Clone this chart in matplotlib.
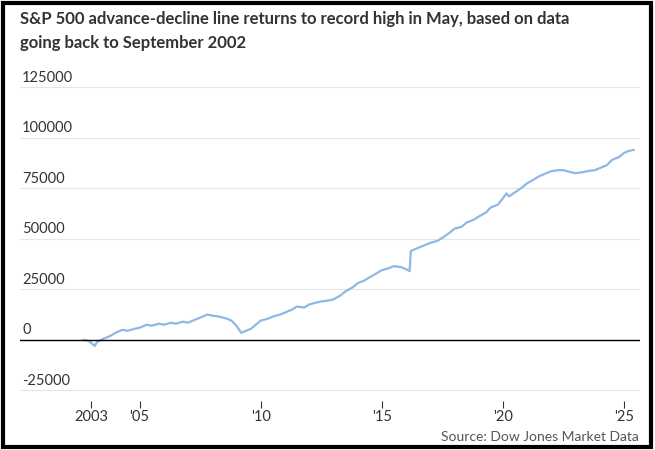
import matplotlib.pyplot as plt
import matplotlib.transforms as mtransforms
from matplotlib.patches import Rectangle

# values (decimal year, A/D line level)
years = [2002.7, 2002.9, 2003.0, 2003.15, 2003.25, 2003.5, 2003.8, 2004.0, 2004.3, 2004.5,
         2004.8, 2005.0, 2005.3, 2005.5, 2005.8, 2006.0, 2006.3, 2006.5, 2006.8, 2007.0,
         2007.3, 2007.6, 2007.8, 2008.0, 2008.3, 2008.6, 2008.8, 2009.0, 2009.2, 2009.4,
         2009.6, 2009.8, 2010.0, 2010.3, 2010.5, 2010.8, 2011.0, 2011.3, 2011.5, 2011.8,
         2012.0, 2012.3, 2012.5, 2012.8, 2013.0, 2013.3, 2013.5, 2013.8, 2014.0, 2014.3,
         2014.5, 2014.8, 2015.0, 2015.3, 2015.5, 2015.8, 2016.0, 2016.15, 2016.2, 2016.5,
         2016.8, 2017.0, 2017.3, 2017.5, 2017.8, 2018.0, 2018.3, 2018.5, 2018.8, 2019.0,
         2019.3, 2019.5, 2019.8, 2020.0, 2020.15, 2020.25, 2020.5, 2020.8, 2021.0, 2021.3,
         2021.5, 2021.8, 2022.0, 2022.3, 2022.5, 2022.8, 2023.0, 2023.3, 2023.5, 2023.8,
         2024.0, 2024.3, 2024.5, 2024.8, 2025.0, 2025.2, 2025.4]
adline = [0, -500, -1500, -3000, -1000, 500, 2000, 3500, 5000, 4500,
          5500, 6000, 7500, 7000, 8000, 7500, 8500, 8000, 9000, 8500,
          10000, 11500, 12500, 12000, 11500, 10500, 9500, 7000, 3500, 4500,
          5500, 7500, 9500, 10500, 11500, 12500, 13500, 15000, 16500, 16000,
          17500, 18500, 19000, 19500, 20000, 22000, 24000, 26000, 28000, 29500,
          31000, 33000, 34500, 35500, 36500, 36000, 35000, 34000, 44000, 45500,
          47000, 48000, 49000, 50500, 53000, 55000, 56000, 58000, 59500, 61000,
          63000, 65500, 67000, 70000, 72500, 71000, 73000, 75500, 77500, 79500,
          81000, 82500, 83500, 84000, 84000, 83000, 82500, 83000, 83500, 84000,
          85000, 86500, 89000, 90500, 92500, 93500, 94000]

yticks = [-25000, 0, 25000, 50000, 75000, 100000, 125000]
xticks = [2003, 2005, 2010, 2015, 2020, 2025]
xlabels = ["2003", "'05", "'10", "'15", "'20", "'25"]

plt.rcParams['font.family'] = ['Lato', 'DejaVu Sans']
fig = plt.figure(figsize=(6.55, 4.5), dpi=100)
ax = fig.add_axes([0.03, 0.11, 0.947, 0.705])

ax.plot(years, adline, color='#8fb8e3', linewidth=1.6)
ax.axhline(0, color='black', linewidth=1)
ax.set_ylim(-30000, 127000)
ax.set_xlim(2000.05, 2025.66)
ax.set_yticks(yticks)
ax.set_yticklabels([])
ax.set_xticks(xticks)
ax.set_xticklabels(xlabels)
ax.grid(axis='y', color='#e6e6e6', linewidth=0.8)
ax.set_axisbelow(True)
for s in ax.spines.values():
    s.set_visible(False)
ax.tick_params(axis='y', length=0)
ax.tick_params(axis='x', length=5, labelsize=10.5, colors='#333333', color='#333333', pad=2)

trans = mtransforms.blended_transform_factory(ax.transAxes, ax.transData)
for v in yticks:
    ax.text(0.004, v + 1200, str(v), transform=trans, ha='left', va='bottom',
            fontsize=10.5, color='#333333')

fig.text(0.03, 0.975, "S&P 500 advance-decline line returns to record high in May, based on data\ngoing back to September 2002",
         fontsize=12, fontweight='bold', va='top', ha='left', color='#333333', linespacing=1.6)
fig.text(0.975, 0.02, "Source: Dow Jones Market Data", fontsize=10, ha='right', color='#555555')
fig.patches.append(Rectangle((0.004, 0.006), 0.99, 0.988, transform=fig.transFigure,
                             fill=False, edgecolor='black', linewidth=3))

fig.savefig("out.png", dpi=100)
